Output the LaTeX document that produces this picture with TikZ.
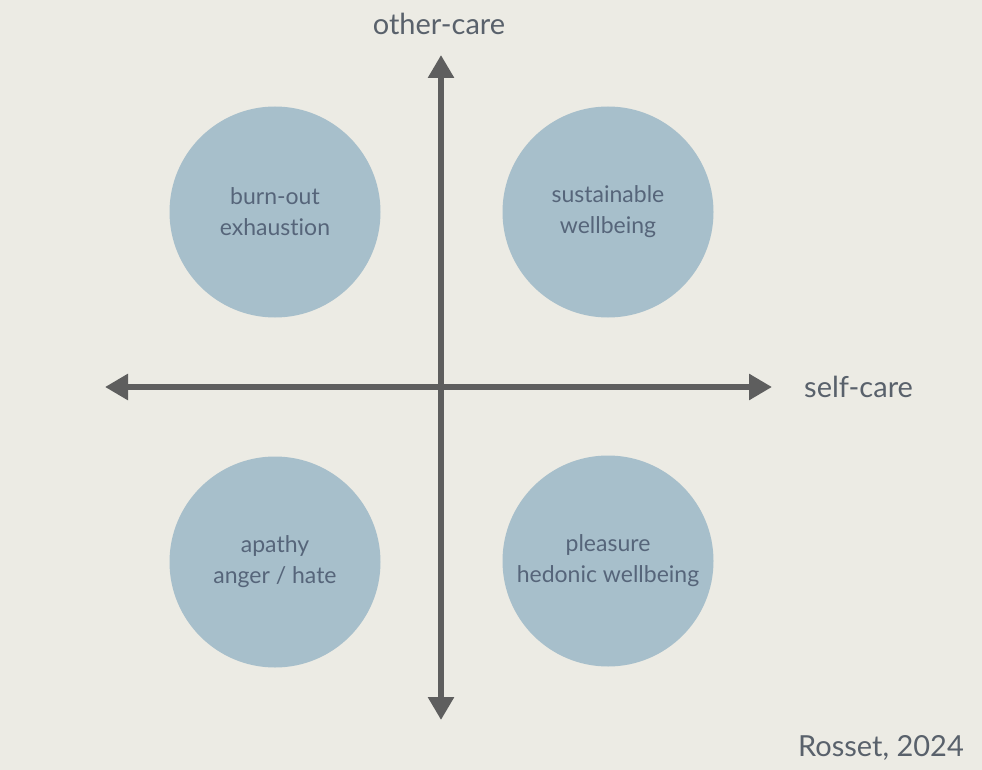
\documentclass[tikz,border=0pt]{standalone}
\usepackage{fontspec}
\setmainfont{Lato}[Ligatures=NoCommon]
\usetikzlibrary{arrows.meta,positioning}
\definecolor{paper}{HTML}{ECEBE4}
\definecolor{blob}{HTML}{A7BFCB}
\definecolor{blobtext}{HTML}{56657A}
\definecolor{axisgray}{HTML}{5E5E5E}
\definecolor{labelgray}{HTML}{59616B}

\begin{document}
\begin{tikzpicture}[x=1pt,y=-1pt,
  quad/.style={circle,fill=blob,minimum size=211pt,inner sep=0pt,text=blobtext,align=center,font=\fontsize{23}{31}\selectfont},
  axisline/.style={draw=axisgray,line width=6pt,{Triangle[length=23pt,width=25pt]}-{Triangle[length=23pt,width=25pt]}},
  axislabel/.style={text=labelgray,font=\fontsize{29}{30}\selectfont,inner sep=0pt},
]
  \fill[paper] (0,0) rectangle (982,770);
  \useasboundingbox (0,0) rectangle (982,770);

  % quadrants
  \node[quad] (bl) at (275,212) {burn-out\\exhaustion};
  \node[quad] (sw) at (608,212) {sustainable\\wellbeing};
  \node[quad] (ah) at (275,562) {apathy\\anger / hate};
  \node[quad] (hw) at (608,561) {pleasure\\hedonic wellbeing};

  % axes
  \coordinate (top) at (441,55);
  \coordinate (bottom) at (441,720);
  \coordinate (left) at (105,387);
  \coordinate (right) at (772,387);
  \draw[axisline] (bottom) -- (top);
  \draw[axisline] (left) -- (right);

  \node[axislabel] (oc) at (439,24) {other-care};
  \node[axislabel,anchor=west] (sc) at (804,387) {self-care};
  \node[axislabel,anchor=east] (ref) at (964,748) {Rosset, 2024};
\end{tikzpicture}
\end{document}
